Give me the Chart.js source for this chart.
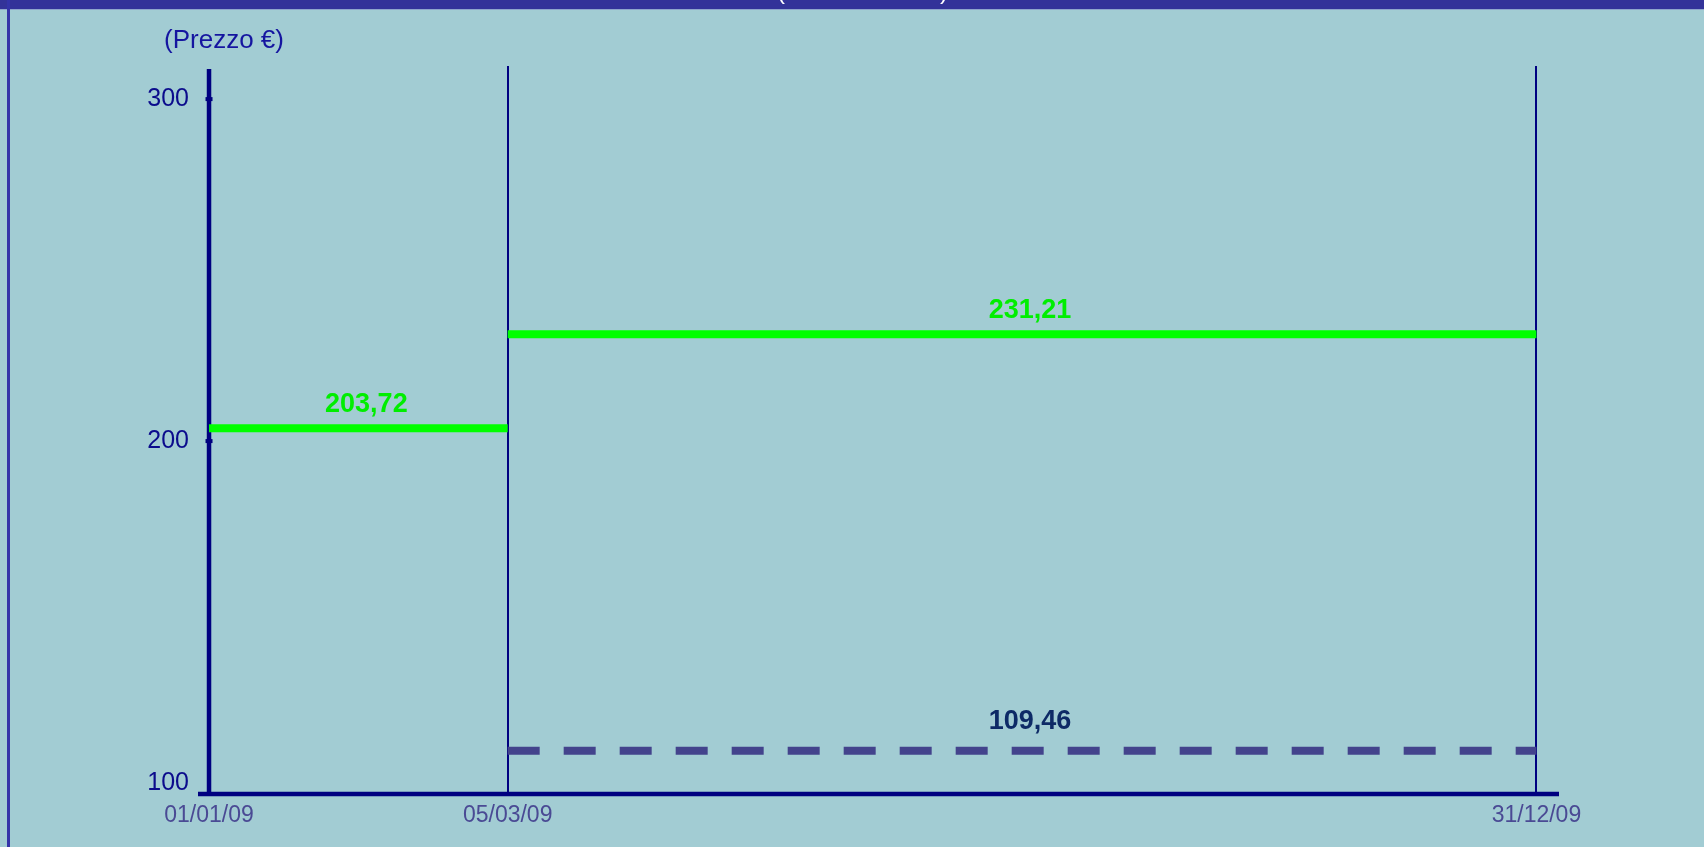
<!DOCTYPE html>
<html>
<head>
<meta charset="utf-8">
<script src="https://cdn.jsdelivr.net/npm/chart.js@4/dist/chart.umd.min.js"></script>
<style>
html,body{margin:0;padding:0;background:#a2ccd3;overflow:hidden;}
canvas{display:block;}
</style>
</head>
<body>
<canvas id="c" width="1704" height="847"></canvas>
<script>
// ---- data ----
const dateLabels = ['01/01/09', '05/03/09', '31/12/09'];
const datePositions = [0, 22.5, 100];          // relative position of each date on the x axis
const yTicks = [100, 200, 300];
const priceBefore = 203.72;                     // 01/01/09 -> 05/03/09
const priceAfter = 231.21;                      // 05/03/09 -> 31/12/09
const referencePrice = 109.46;                  // dashed, 05/03/09 -> 31/12/09
const axisTitle = '(Prezzo €)';
const fmt = v => v.toFixed(2).replace('.', ',');

const FONT = "'Liberation Sans', Arial, sans-serif";
const NAVY = '#000080';

const decor = {
  id: 'decor',
  beforeDraw(chart) {
    const ctx = chart.ctx;
    ctx.save();
    ctx.fillStyle = '#a2ccd3';
    ctx.fillRect(0, 0, chart.width, chart.height);
    // top bar
    ctx.fillStyle = '#333399';
    ctx.fillRect(0, 0, chart.width, 9);
    ctx.fillStyle = '#8ea6cc';
    ctx.fillRect(0, 9, chart.width, 1);
    // left border
    ctx.fillStyle = '#3434a8';
    ctx.fillRect(7, 0, 3, chart.height);
    // cut-off title parentheses
    ctx.fillStyle = '#ffffff';
    ctx.font = '24px ' + FONT;
    ctx.textAlign = 'center';
    ctx.textBaseline = 'alphabetic';
    ctx.fillText('(', 781, -1);
    ctx.fillText(')', 944, -1);
    // axis title
    ctx.fillStyle = '#1515a0';
    ctx.font = '26px ' + FONT;
    ctx.textBaseline = 'middle';
    ctx.fillText(axisTitle, 224, 41);
    ctx.restore();
  },
  beforeDatasetsDraw(chart) {
    const ctx = chart.ctx;
    const xs = chart.scales.x, ys = chart.scales.y;
    const ca = chart.chartArea;
    const x0 = xs.getPixelForValue(datePositions[0]);
    ctx.save();
    ctx.strokeStyle = NAVY;
    ctx.lineCap = 'butt';
    // vertical date lines
    ctx.lineWidth = 2;
    for (let i = 1; i < datePositions.length; i++) {
      const px = Math.round(xs.getPixelForValue(datePositions[i]));
      ctx.beginPath();
      ctx.moveTo(px, ca.top - 3);
      ctx.lineTo(px, ca.bottom);
      ctx.stroke();
    }
    // y axis line
    ctx.lineWidth = 4.5;
    ctx.beginPath();
    ctx.moveTo(x0, ca.top);
    ctx.lineTo(x0, ca.bottom + 2);
    ctx.stroke();
    // x axis line
    ctx.beginPath();
    ctx.moveTo(ca.left, ca.bottom);
    ctx.lineTo(ca.right, ca.bottom);
    ctx.stroke();
    // y tick marks
    ctx.fillStyle = NAVY;
    yTicks.slice(1).forEach(v => {
      const py = ys.getPixelForValue(v);
      ctx.fillRect(x0 - 3.5, py - 2, 7, 4);
    });
    ctx.restore();
  },
  afterDatasetsDraw(chart) {
    const ctx = chart.ctx;
    ctx.save();
    ctx.textAlign = 'center';
    ctx.textBaseline = 'alphabetic';
    ctx.font = 'bold 27px ' + FONT;
    chart.data.datasets.forEach((ds, i) => {
      const meta = chart.getDatasetMeta(i);
      const a = meta.data[0], b = meta.data[meta.data.length - 1];
      const cx = (a.x + b.x) / 2 + 8;
      ctx.fillStyle = ds.labelColor;
      ctx.fillText(fmt(ds.data[0].y), cx, a.y - ds.labelGap);
    });
    ctx.restore();
  }
};

const seg = (x1, x2, y) => [{x: x1, y: y}, {x: x2, y: y}];

new Chart(document.getElementById('c'), {
  type: 'line',
  data: {
    datasets: [
      {
        data: seg(datePositions[0], datePositions[1], priceBefore),
        borderColor: '#00ff00', borderWidth: 8, pointRadius: 0,
        labelColor: '#00ee00', labelGap: 16
      },
      {
        data: seg(datePositions[1], datePositions[2], priceAfter),
        borderColor: '#00ff00', borderWidth: 8, pointRadius: 0,
        labelColor: '#00ee00', labelGap: 16
      },
      {
        data: seg(datePositions[1], datePositions[2], referencePrice),
        borderColor: '#43438c', borderWidth: 8, borderDash: [32, 24], pointRadius: 0,
        labelColor: '#0d2a66', labelGap: 22
      }
    ]
  },
  options: {
    responsive: false,
    animation: false,
    devicePixelRatio: 1,
    layout: { padding: { left: 0, right: 145, top: 69, bottom: 0 } },
    plugins: { legend: { display: false }, tooltip: { enabled: false } },
    scales: {
      x: {
        type: 'linear',
        min: -0.83, max: 101.7,
        grid: { display: false, drawTicks: false }, border: { display: false },
        afterBuildTicks(s) { s.ticks = datePositions.map(v => ({ value: v })); },
        afterFit(s) { s.height = 53; },
        ticks: {
          autoSkip: false, maxRotation: 0, padding: 8,
          color: '#4a4a94', font: { family: FONT, size: 23 },
          callback: (v) => dateLabels[datePositions.indexOf(v)]
        }
      },
      y: {
        type: 'linear',
        min: 96.8, max: 308.8,
        grid: { display: false, drawTicks: false }, border: { display: false },
        afterBuildTicks(s) { s.ticks = yTicks.map(v => ({ value: v })); },
        afterFit(s) { s.width = 198; },
        ticks: {
          padding: 9,
          color: '#0b0b8c', font: { family: FONT, size: 25 }
        }
      }
    }
  },
  plugins: [decor]
});
</script>
</body>
</html>
